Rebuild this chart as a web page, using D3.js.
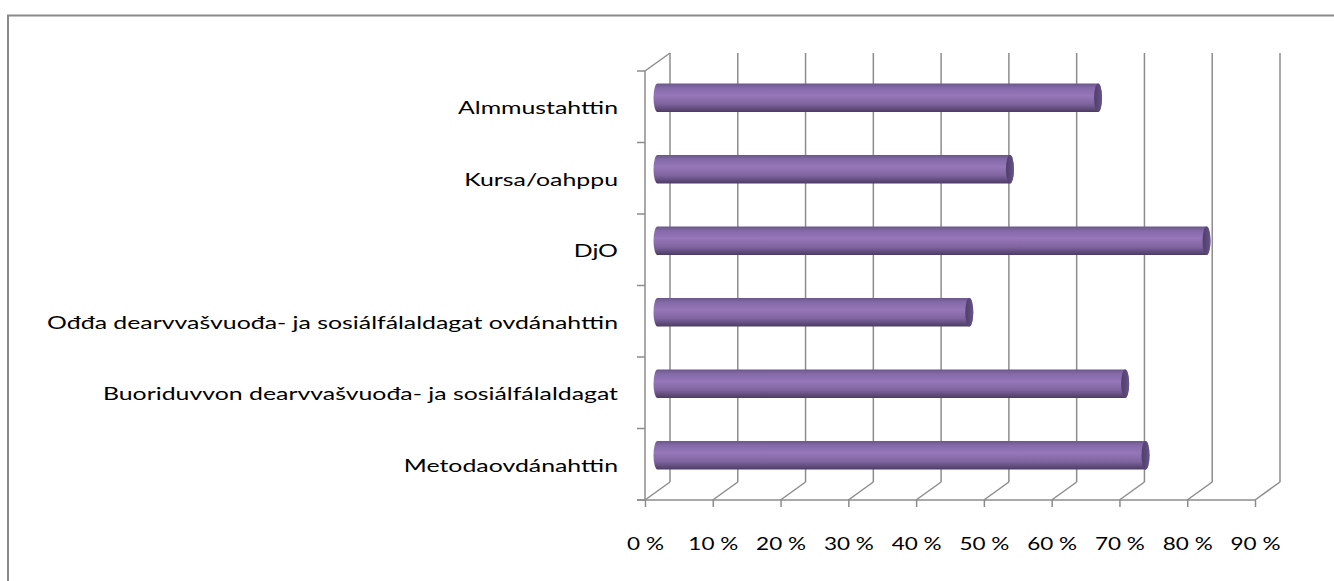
<!DOCTYPE html>
<html>
<head>
<meta charset="utf-8">
<script src="https://cdn.jsdelivr.net/npm/d3@7"></script>
<style>
  body { margin: 0; background: #fff; }
  text { font-family: Lato, "Open Sans", sans-serif; fill: #000; }
</style>
</head>
<body>
<div id="chart"></div>
<script>
// Categories, top to bottom
const categories = [
    'Almmustahttin',
    'Kursa/oahppu',
    'DjO',
    'Ođđa dearvvašvuođa- ja sosiálfálaldagat ovdánahttin',
    'Buoriduvvon dearvvašvuođa- ja sosiálfálaldagat',
    'Metodaovdánahttin'
];
// Share of answers (fraction)
const values = [0.65, 0.52, 0.81, 0.46, 0.69, 0.72];
// x axis ticks
const tickValues = [0, 0.1, 0.2, 0.3, 0.4, 0.5, 0.6, 0.7, 0.8, 0.9];

const width = 1334;
const height = 581;

// depth offset of the 3D back wall
const dx = 25, dy = -18;
// the original picture is stretched sideways, so text is too
const labelStretch = 1.38;
const tickStretch = 1.25;

const svg = d3.select("#chart")
    .append("svg")
    .attr("width", width)
    .attr("height", height);

// outer frame
svg.append("rect")
    .attr("x", 8).attr("y", 15.5)
    .attr("width", 1400).attr("height", 700)
    .attr("fill", "none")
    .attr("stroke", "#8a8a8a")
    .attr("stroke-width", 2);

const x = d3.scaleLinear().domain([0, 0.9]).range([645, 1255]);
const y = d3.scaleBand().domain(categories).range([71, 500]);

const gridColor = "#8c8c8c";
const yTop = y.range()[0], yBot = y.range()[1];

// back wall gridlines
svg.append("g").selectAll("line")
    .data(tickValues)
    .enter().append("line")
    .attr("x1", d => x(d) + dx).attr("x2", d => x(d) + dx)
    .attr("y1", yTop + dy).attr("y2", yBot + dy)
    .attr("stroke", gridColor).attr("stroke-width", 1.5);

// floor diagonals
svg.append("g").selectAll("line")
    .data(tickValues)
    .enter().append("line")
    .attr("x1", d => x(d)).attr("x2", d => x(d) + dx)
    .attr("y1", yBot).attr("y2", yBot + dy)
    .attr("stroke", gridColor).attr("stroke-width", 1.5);

// left wall top edge
svg.append("line")
    .attr("x1", x(0)).attr("y1", yTop)
    .attr("x2", x(0) + dx).attr("y2", yTop + dy)
    .attr("stroke", gridColor).attr("stroke-width", 1.5);

// bottom axis
const xAxis = d3.axisBottom(x)
    .tickValues(tickValues)
    .tickFormat(d => Math.round(d * 100) + " %")
    .tickSizeInner(7)
    .tickSizeOuter(0)
    .tickPadding(30);

const gx = svg.append("g")
    .attr("transform", `translate(0,${yBot})`)
    .call(xAxis);
gx.select(".domain").attr("stroke", gridColor).attr("stroke-width", 1.5)
    .attr("d", `M${x(0) - 8},0H${x(0.9)}`);
gx.selectAll(".tick line").attr("stroke", gridColor).attr("stroke-width", 1.5);
gx.selectAll(".tick text")
    .style("font-size", "18px")
    .style("font-family", "Lato, 'Open Sans', sans-serif")
    .attr("fill", "#000")
    .attr("transform", `scale(${tickStretch},1)`);

// left axis line + ticks at category boundaries
const bounds = categories.map(c => y(c)).concat([yBot]);
svg.append("line")
    .attr("x1", x(0)).attr("x2", x(0))
    .attr("y1", yTop).attr("y2", yBot)
    .attr("stroke", gridColor).attr("stroke-width", 1.5);
svg.append("g").selectAll("line")
    .data(bounds)
    .enter().append("line")
    .attr("x1", x(0) - 8).attr("x2", x(0))
    .attr("y1", d => d).attr("y2", d => d)
    .attr("stroke", gridColor).attr("stroke-width", 1.5);

// category labels
svg.append("g").selectAll("text")
    .data(categories)
    .enter().append("text")
    .attr("transform", d => `translate(618,${y(d) + y.bandwidth() / 2 + 1}) scale(${labelStretch},1)`)
    .attr("dy", "0.35em")
    .attr("text-anchor", "end")
    .style("font-size", "18px")
    .text(d => d);

// cylinder gradients
const defs = svg.append("defs");
const grad = defs.append("linearGradient")
    .attr("id", "cyl").attr("x1", 0).attr("y1", 0).attr("x2", 0).attr("y2", 1);
[[0, "#6b5689"], [0.15, "#8469a8"], [0.42, "#9677b9"], [0.72, "#7f649f"], [1, "#4b3c63"]]
    .forEach(s => grad.append("stop").attr("offset", s[0]).attr("stop-color", s[1]));
const capGrad = defs.append("linearGradient")
    .attr("id", "cap").attr("x1", 0).attr("y1", 0).attr("x2", 1).attr("y2", 0);
[[0, "#4f3f6c"], [0.6, "#5c4a7b"], [1, "#6a578a"]]
    .forEach(s => capGrad.append("stop").attr("offset", s[0]).attr("stop-color", s[1]));

const barH = y.bandwidth() * 0.4;
const rx = 4;
const ry = barH / 2;

const bars = svg.append("g").selectAll("g")
    .data(categories.map((c, i) => ({ cat: c, value: values[i] })))
    .enter().append("g");

bars.append("path")
    .attr("d", d => {
        const x0 = x(0) + dx / 2, x1 = x(d.value) + dx / 2;
        const cy = y(d.cat) + y.bandwidth() / 2 + dy / 2;
        const t = cy - ry, b = cy + ry;
        return `M${x0},${t}L${x1},${t}A${rx},${ry} 0 0 1 ${x1},${b}L${x0},${b}A${rx},${ry} 0 0 1 ${x0},${t}Z`;
    })
    .attr("fill", "url(#cyl)");

bars.append("ellipse")
    .attr("cx", d => x(d.value) + dx / 2)
    .attr("cy", d => y(d.cat) + y.bandwidth() / 2 + dy / 2)
    .attr("rx", rx).attr("ry", ry)
    .attr("fill", "url(#cap)");
</script>
</body>
</html>
